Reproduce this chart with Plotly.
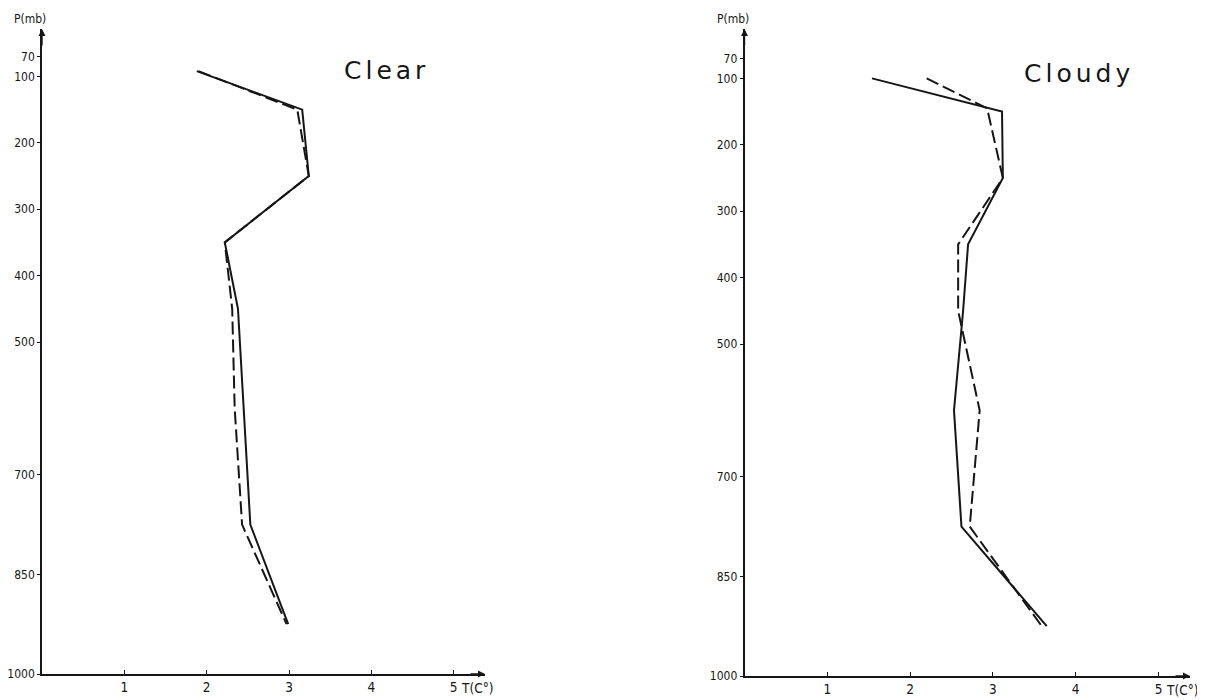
import plotly.graph_objects as go

# ---- data ----
clear_p_solid = [92, 150, 250, 350, 450, 600, 775, 925]
clear_t_solid = [1.88, 3.16, 3.24, 2.22, 2.38, 2.45, 2.53, 2.99]
clear_p_dash = [92, 150, 250, 350, 450, 600, 775, 925]
clear_t_dash = [1.90, 3.10, 3.24, 2.22, 2.31, 2.34, 2.43, 2.97]

cloudy_p_solid = [100, 150, 250, 350, 450, 600, 775, 925]
cloudy_t_solid = [1.54, 3.11, 3.12, 2.70, 2.64, 2.53, 2.62, 3.65]
cloudy_p_dash = [100, 145, 250, 350, 450, 600, 775, 925]
cloudy_t_dash = [2.20, 2.93, 3.12, 2.58, 2.58, 2.84, 2.72, 3.59]

p_ticks = [70, 100, 200, 300, 400, 500, 700, 850, 1000]
t_ticks = [1, 2, 3, 4, 5]
panel_titles = ["Clear", "Cloudy"]

# the page body has an 8px margin: figure pixel = page pixel - 8
OFF = 8
W, H = 1205 - OFF, 700 - OFF
INK = "#161616"
TICKFONT = dict(family="DejaVu Sans Condensed, Liberation Sans Narrow, sans-serif",
                size=13.5, color=INK)
YTICKFONT = dict(TICKFONT, size=12)

fig = go.Figure()

line_solid = dict(color=INK, width=2)
line_dash = dict(color=INK, width=2, dash="13px,5px")

fig.add_trace(go.Scatter(x=clear_t_solid, y=clear_p_solid, mode="lines", line=line_solid,
                         xaxis="x", yaxis="y", showlegend=False))
fig.add_trace(go.Scatter(x=clear_t_dash, y=clear_p_dash, mode="lines", line=line_dash,
                         xaxis="x", yaxis="y", showlegend=False))
fig.add_trace(go.Scatter(x=cloudy_t_solid, y=cloudy_p_solid, mode="lines", line=line_solid,
                         xaxis="x2", yaxis="y2", showlegend=False))
fig.add_trace(go.Scatter(x=cloudy_t_dash, y=cloudy_p_dash, mode="lines", line=line_dash,
                         xaxis="x2", yaxis="y2", showlegend=False))

def xax(domain, rng, anchor):
    return dict(domain=domain, range=rng, anchor=anchor, showgrid=False, zeroline=False,
                showline=True, linecolor=INK, linewidth=1.6, ticks="inside", ticklen=4,
                tickwidth=1.2, tickcolor=INK, tickvals=t_ticks, ticktext=[str(t) for t in t_ticks],
                tickfont=TICKFONT, automargin=False, fixedrange=True)

def yax(domain, rng, anchor):
    return dict(domain=domain, range=rng, anchor=anchor, showgrid=False, zeroline=False,
                showline=True, linecolor=INK, linewidth=1.6, ticks="outside", ticklen=3,
                tickwidth=1.2, tickcolor=INK, tickvals=p_ticks, ticktext=[str(p) for p in p_ticks],
                tickfont=YTICKFONT, automargin=False, fixedrange=True)

# pixel geometry of the two panels (reference page pixels)
L = dict(x0=42, x1=485, yb=674, yt=29)
R = dict(x0=744.5, x1=1190, yb=676, yt=29)
L_trange = [0, 5.38]
R_trange = [0, 5.38]
L_prange = [1000, 28.6]
R_prange = [1000, 25.6]

def fx(px):
    return (px - OFF) / W

def fy(py):
    return (H - (py - OFF)) / H

fig.update_layout(
    width=W, height=H,
    margin=dict(l=0, r=0, t=0, b=0),
    paper_bgcolor="white", plot_bgcolor="white",
    xaxis=xax([fx(L["x0"]), fx(L["x1"])], L_trange, "y"),
    yaxis=yax([fy(L["yb"]), fy(L["yt"])], L_prange, "x"),
    xaxis2=xax([fx(R["x0"]), fx(R["x1"])], R_trange, "y2"),
    yaxis2=yax([fy(R["yb"]), fy(R["yt"])], R_prange, "x2"),
)

anns = []
for xa, ya, trng, prng in (("x", "y", L_trange, L_prange), ("x2", "y2", R_trange, R_prange)):
    anns.append(dict(x=0, y=prng[1], xref=xa, yref=ya, ax=0, ay=18, showarrow=True,
                     arrowhead=2, arrowsize=1, arrowwidth=1.4, arrowcolor=INK, text=""))
    anns.append(dict(x=trng[1], y=1000, xref=xa, yref=ya, ax=-16, ay=0, showarrow=True,
                     arrowhead=2, arrowsize=1, arrowwidth=1.4, arrowcolor=INK, text=""))
    anns.append(dict(x=5.07, y=1000, xref=xa, yref=ya, text="T(C°)", showarrow=False,
                     xanchor="left", yanchor="top", yshift=-4, font=TICKFONT))
    anns.append(dict(x=0, y=prng[1], xref=xa, yref=ya, text="P(mb)", showarrow=False,
                     xanchor="center", yanchor="bottom", xshift=-12, yshift=1,
                     font=dict(TICKFONT, size=12)))

title_font = dict(family="DejaVu Sans, Verdana, sans-serif", size=25, color=INK)
anns.append(dict(x=fx(342), y=fy(70), xref="paper", yref="paper", xanchor="left",
                 yanchor="middle", showarrow=False, font=title_font,
                 text='<span style="letter-spacing:4px">' + panel_titles[0] + '</span>'))
anns.append(dict(x=fx(1022), y=fy(74), xref="paper", yref="paper", xanchor="left",
                 yanchor="middle", showarrow=False, font=title_font,
                 text='<span style="letter-spacing:4px">' + panel_titles[1] + '</span>'))

fig.update_layout(annotations=anns)

fig.write_html("out.html")
